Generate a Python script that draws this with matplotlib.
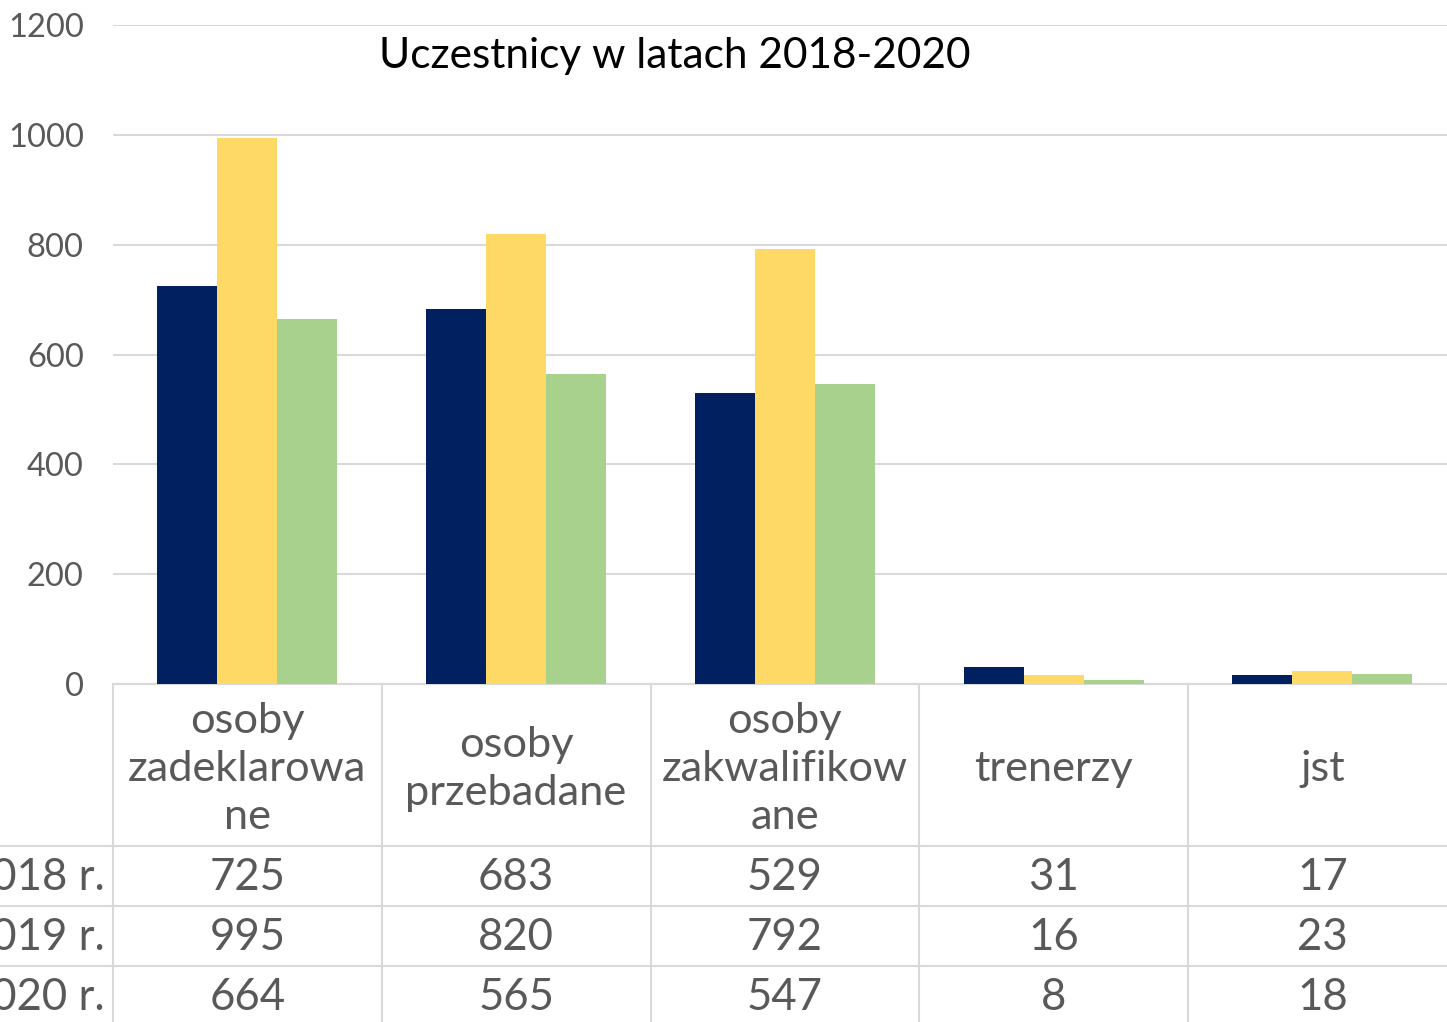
import matplotlib.pyplot as plt
import numpy as np

plt.rcParams['font.family'] = ['Lato', 'DejaVu Sans']

kategorie = ['osoby\nzadeklarowa\nne', 'osoby\nprzebadane', 'osoby\nzakwalifikow\nane', 'trenerzy', 'jst']
lata = ['2018 r.', '2019 r.', '2020 r.']
wart_2018 = [725, 683, 529, 31, 17]
wart_2019 = [995, 820, 792, 16, 23]
wart_2020 = [664, 565, 547, 8, 18]
serie = [wart_2018, wart_2019, wart_2020]
kolory = ['#002060', '#FFD966', '#A9D18E']

W, H = 1447, 1022
fig = plt.figure(figsize=(W / 100, H / 100), dpi=100)
kat_px = 268.75  # szerokosc kategorii w pikselach (obszar wykresu wychodzi poza obraz)
left = 113 / W
width = len(kategorie) * kat_px / W
bottom = 1 - 684 / H
top = 1 - 25 / H
ax = fig.add_axes([left, bottom, width, top - bottom])

x = np.arange(len(kategorie))
szer = 60 / kat_px
for i, (s, k) in enumerate(zip(serie, kolory)):
    ax.bar(x + (i - 1) * szer, s, width=szer, color=k, zorder=3)

ax.set_xlim(-0.5, len(kategorie) - 0.5)
ax.set_ylim(0, 1200)
ax.set_yticks(range(0, 1201, 200))
ax.grid(axis='y', color='#D9D9D9', linewidth=1.5, zorder=0)
ax.set_xticks([])
for s in ['top', 'right', 'left']:
    ax.spines[s].set_visible(False)
ax.spines['bottom'].set_color('#D9D9D9')
ax.spines['bottom'].set_linewidth(1.5)
ax.tick_params(axis='y', length=0, pad=21, labelsize=23.5, labelcolor='#595959')

fig.text(675 / W, 1 - 56 / H, 'Uczestnicy w latach 2018-2020', ha='center', va='center',
         fontsize=30.5, color='black')

# tabela danych pod wykresem
tab = fig.add_axes([left, 0, width, 1])
tab.set_xlim(-0.5, len(kategorie) - 0.5)
tab.set_ylim(H, 0)
tab.axis('off')
px = 1 / kat_px
x_lewy = -0.5 - 113 * px
szary = '#595959'
linia = '#D9D9D9'

for b in np.arange(-0.5, len(kategorie) - 0.4, 1.0):
    tab.plot([b, b], [684, H], color=linia, lw=1.5, clip_on=False)
wiersze_y = [846, 906, 966]
for yy in wiersze_y:
    tab.plot([x_lewy, len(kategorie) - 0.5], [yy, yy], color=linia, lw=1.5, clip_on=False)

for i, k in enumerate(kategorie):
    tab.text(i, 769, k, ha='center', va='center', fontsize=31.2, color=szary,
             linespacing=1.32)

for r, (rok, s) in enumerate(zip(lata, serie)):
    yc = wiersze_y[r] + 32
    tab.text(-0.5 - 8 * px, yc, rok, ha='right', va='center', fontsize=31.5, color=szary,
             clip_on=False)
    for i, v in enumerate(s):
        tab.text(i, yc, str(v), ha='center', va='center', fontsize=31.5, color=szary)

fig.savefig('out.png', dpi=100)
